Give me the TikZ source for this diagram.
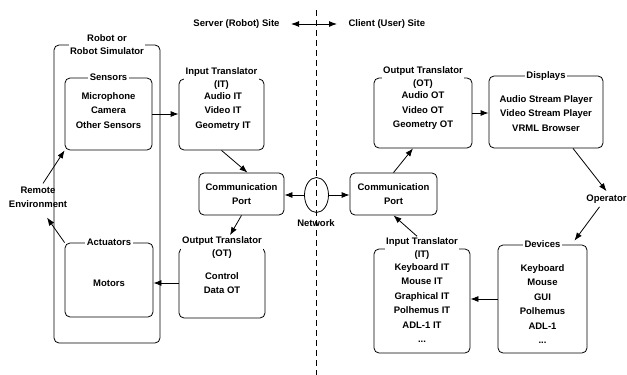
\documentclass[tikz,border=0pt]{standalone}
\usepackage{fontspec}
\setmainfont{Liberation Sans}
\usetikzlibrary{arrows.meta,shapes.geometric,positioning}

\begin{document}
\begin{tikzpicture}[x=1pt,y=-1pt,
		font=\fontsize{9.5}{14.5}\selectfont\bfseries,
		box/.style={draw,rounded corners=5pt,line width=0.8pt,inner sep=0pt,align=center},
		boxtitle/.style={fill=white,inner sep=1.5pt,align=center,font=\fontsize{9.5}{12.5}\selectfont\bfseries},
		items/.style={align=center,inner sep=0pt},
		arr/.style={-{Latex[length=8pt,width=6pt]},line width=0.8pt},
		dblarr/.style={arrows={Latex[length=8pt,width=6pt]-Latex[length=8pt,width=6pt]},line width=0.9pt}]
		\useasboundingbox (0,0) rectangle (627,375);

		\coordinate (divtop) at (316,10);
		\coordinate (divbot) at (316,375);
		\draw[line width=0.8pt,dash pattern=on 6pt off 4pt] (divtop) -- (divbot);
		\node[anchor=east] (server) at (283,24) {Server (Robot) Site};
		\node[anchor=west] (client) at (345,24) {Client (User) Site};

		\node[box, minimum width=106, minimum height=298] (robot) at (107,194) {};
		\node[boxtitle] (robottitle) at (robot.north) {Robot or\\Robot Simulator};
		\node[box, minimum width=87, minimum height=72] (sensors) at (108.5,114) {};
		\node[boxtitle] (sensorstitle) at (sensors.north) {Sensors};
		\node[items] (sensorsitems) at (108.5,110.5) {Microphone\\Camera\\Other Sensors};
		\node[box, minimum width=88, minimum height=74] (actuators) at (109,280) {};
		\node[boxtitle] (actuatorstitle) at (actuators.north) {Actuators};
		\node[items] (actuatorsitems) at (109,283) {Motors};

		\node[box, minimum width=85, minimum height=71] (itL) at (221.5,114.5) {};
		\node[boxtitle] (itLtitle) at (itL.north) {Input Translator\\(IT)};
		\node[items] (itLitems) at (223,111.5) {Audio IT\\Video IT\\Geometry IT};
		\node[box, minimum width=86, minimum height=70] (otL) at (222,283) {};
		\node[boxtitle] (otLtitle) at (otL.north) {Output Translator\\(OT)};
		\node[items] (otLitems) at (222,283) {Control\\Data OT};
		\node[box, minimum width=85, minimum height=42] (commL) at (241.5,194) {Communication\\Port};

		\node[draw, ellipse, line width=0.8pt, minimum width=24, minimum height=35, inner sep=0pt] (net) at (316.5,195) {};
		\node (nettext) at (316,223) {Network};

		\node[box, minimum width=87, minimum height=42] (commR) at (393.5,194) {Communication\\Port};
		\node[box, minimum width=98, minimum height=70] (otR) at (423,113) {};
		\node[boxtitle] (otRtitle) at (otR.north) {Output Translator\\(OT)};
		\node[items] (otRitems) at (423,111) {Audio OT\\Video OT\\Geometry OT};
		\node[box, minimum width=114, minimum height=72] (displays) at (546,112) {};
		\node[boxtitle] (displaystitle) at (displays.north) {Displays};
		\node[items] (displaysitems) at (546,113.5) {Audio Stream Player\\Video Stream Player\\VRML Browser};
		\node[box, minimum width=89, minimum height=108] (devices) at (542.5,299) {};
		\node[boxtitle] (devicestitle) at (devices.north) {Devices};
		\node[items] (devicesitems) at (542.5,304) {Keyboard\\Mouse\\GUI\\Polhemus\\ADL-1\\...};
		\node[box, minimum width=96, minimum height=104] (itR) at (422,301) {};
		\node[boxtitle] (itRtitle) at (itR.north) {Input Translator\\(IT)};
		\node[items] (itRitems) at (422,303) {Keyboard IT\\Mouse IT\\Graphical IT\\Polhemus IT\\ADL-1 IT\\...};

		\node (operator) at (606.5,199) {Operator};
		\node[align=center] (remote) at (38,197.5) {Remote\\Environment};

		\draw[arr] (sensors.east) -- (sensors.east -| itL.west);
		\draw[arr] (itL.south) -- ([xshift=6pt]commL.north);
		\draw[arr] (net.west) -- (net.west -| commL.east);
		\draw[arr] (net.east) -- (net.east -| commR.west);
		\draw[arr] (commR.north) -- ([xshift=-10pt]otR.south);
		\draw[arr] (otR.east) -- (otR.east -| displays.west);
		\draw[arr] ([xshift=27pt]displays.south) -- (operator.north);
		\draw[arr] ([xshift=-7pt]operator.south) -- ([xshift=32pt,yshift=4pt]devices.north);
		\draw[arr] (devices.west) -- (devices.west -| itR.east);
		\draw[arr] ([xshift=-5pt]itRtitle.north) -- (commR.south);
		\draw[arr] (commL.south) -- ([xshift=8pt]otLtitle.north);
		\draw[arr] (otL.west) -- (otL.west -| actuators.east);
		\draw[arr] ([xshift=5pt]remote.north) -- (sensors.south west);
		\draw[arr] (actuators.north west) -- ([xshift=9pt,yshift=-6pt]remote.south);
		\draw[dblarr] ([xshift=8pt]server.east) -- ([xshift=-8pt]client.west);
\end{tikzpicture}
\end{document}
